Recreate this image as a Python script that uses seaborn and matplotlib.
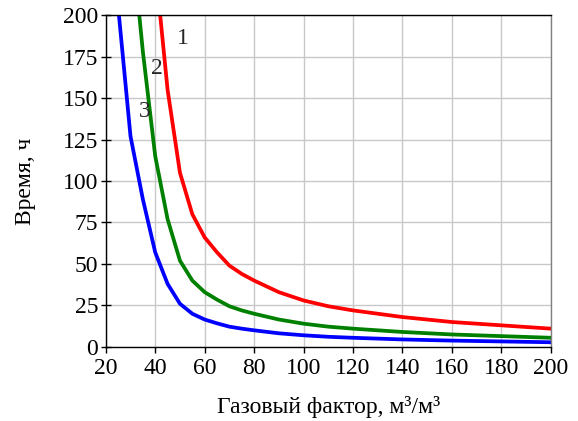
import matplotlib
matplotlib.use("Agg")
import matplotlib.pyplot as plt
import seaborn as sns
import pandas as pd

# газовый фактор, м3/м3
gas_factor = [25, 30, 35, 40, 45, 50, 55, 60, 65, 70, 75, 80, 90, 100,
              110, 120, 140, 160, 180, 200]
# время, ч
time_1 = [820, 508, 356, 230, 155, 105, 80, 66, 57, 49, 44, 40, 33, 28,
          24.5, 22, 18, 15, 13, 11]
time_2 = [410, 254, 178, 115, 77, 52, 40, 33, 28.5, 24.5, 22, 20, 16.5, 14,
          12.2, 11, 9, 7.5, 6.5, 5.5]
time_3 = [205, 127, 89, 57, 38, 26, 20, 16.5, 14.2, 12.2, 11, 10, 8.2, 7,
          6.1, 5.5, 4.5, 3.8, 3.3, 2.8]
curve_labels = ["1", "2", "3"]

df = pd.DataFrame({"x": gas_factor * 3,
                   "y": time_1 + time_2 + time_3,
                   "curve": [c for c in curve_labels for _ in gas_factor]})

sns.set_theme(style="whitegrid")
plt.rcParams["font.family"] = ["Liberation Serif", "DejaVu Serif"]

fig = plt.figure(figsize=(5.78, 4.21), dpi=100)
ax = fig.add_axes([0.183, 0.176, 0.77, 0.788])

sns.lineplot(data=df, x="x", y="y", hue="curve", palette=["#ff0000", "#008000", "#0000ff"],
             linewidth=2.7, legend=False, ax=ax)

ax.set_xlim(20, 200)
ax.set_ylim(0, 200)
ax.set_xticks(range(20, 201, 20))
ax.set_yticks(range(0, 201, 25))
ax.grid(True, color="#c8c8c8", linewidth=1)
for s in ax.spines.values():
    s.set_visible(True)
    s.set_color("black")
    s.set_linewidth(1)
ax.spines["right"].set_color("#808080")
ax.tick_params(axis="both", direction="out", length=4, width=1, color="black",
               labelsize=17, labelcolor="black", pad=4, bottom=True, left=True)
ax.tick_params(axis="y", direction="inout", length=7, pad=2)

ax.set_xlabel("Газовый фактор, м³/м³", fontsize=17, color="black", labelpad=12)
ax.set_ylabel("Время, ч", fontsize=17, color="black", labelpad=19)

ax.text(51, 186, "1", fontsize=17, ha="center", va="center",
        bbox=dict(facecolor="white", edgecolor="none", pad=3))
ax.text(40.6, 168, "2", fontsize=17, ha="center", va="center")
ax.text(35.8, 142, "3", fontsize=17, ha="center", va="center")

fig.savefig("out.png", dpi=100)
